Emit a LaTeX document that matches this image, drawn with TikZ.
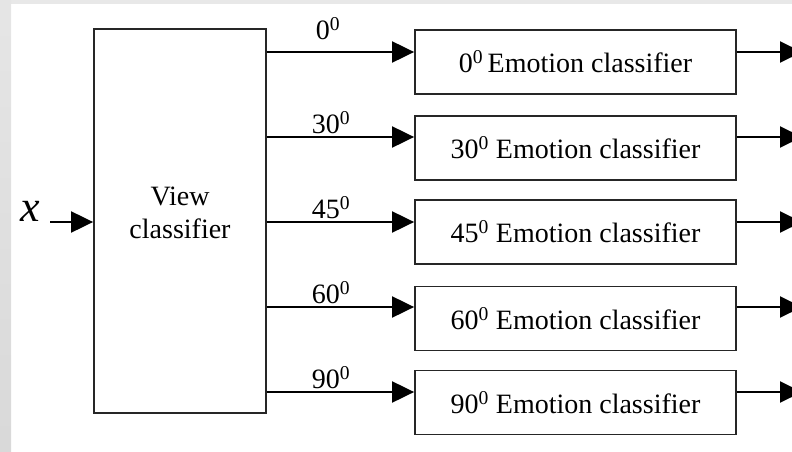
\documentclass[tikz,border=0pt]{standalone}
\usepackage{fontspec}
\setmainfont{Liberation Serif}
\usetikzlibrary{arrows.meta,calc}
\begin{document}
\begin{tikzpicture}[x=1pt,y=-1pt,
  txt/.style={font=\fontsize{28}{33}\selectfont},
  wire/.style={line width=2pt, draw=black, -{Triangle[length=22pt,width=21pt]}},
  viewbox/.style={draw=black!85, line width=1.8pt, minimum width=172pt, minimum height=384pt, inner sep=0pt},
  emobox/.style={txt, draw=black!85, line width=1.8pt, minimum width=321pt, minimum height=64pt, inner sep=0pt},
  anglelabel/.style={txt, anchor=base, inner sep=0pt},
]
\useasboundingbox (0,0) rectangle (792,452);
% window frame
\fill[black!9] (0,0) rectangle (792,4);
\shade[top color=black!10, bottom color=black!15] (0,0) rectangle (11,452);

% view classifier
\node[viewbox] (view) at (180,221) {};
\node[txt, align=center] (viewtxt) at (180,213) {View\\classifier};

% input
\node[font=\fontsize{44}{44}\selectfont\itshape, inner sep=0pt] (xin) at (30,211) {x};
\coordinate (xstart) at (50,222);
\draw[wire] (xstart) -- (xstart -| view.west);

% emotion classifiers
\foreach \i/\cy/\ay/\deg/\lx/\lb/\sp in {1/62/52/0/328/40/\,, 2/147.7/137/30/331/133.5/ , 3/232/222/45/331/218.5/ , 4/318.5/307/60/331/303.5/ , 5/402.5/392/90/331/388.5/ }{
  \node[emobox] (emo\i) at (575.5,\cy) {\deg\textsuperscript{0}\sp Emotion classifier};
  \coordinate (p\i) at (view.east |- 0,\ay);
  \coordinate (out\i) at (802,\ay);
  \draw[wire] (p\i) -- (p\i -| emo\i.west);
  \draw[wire] (emo\i.east |- p\i) -- (out\i);
  \node[anglelabel] (lab\i) at (\lx,\lb) {\deg\textsuperscript{0}};
}
\end{tikzpicture}
\end{document}
